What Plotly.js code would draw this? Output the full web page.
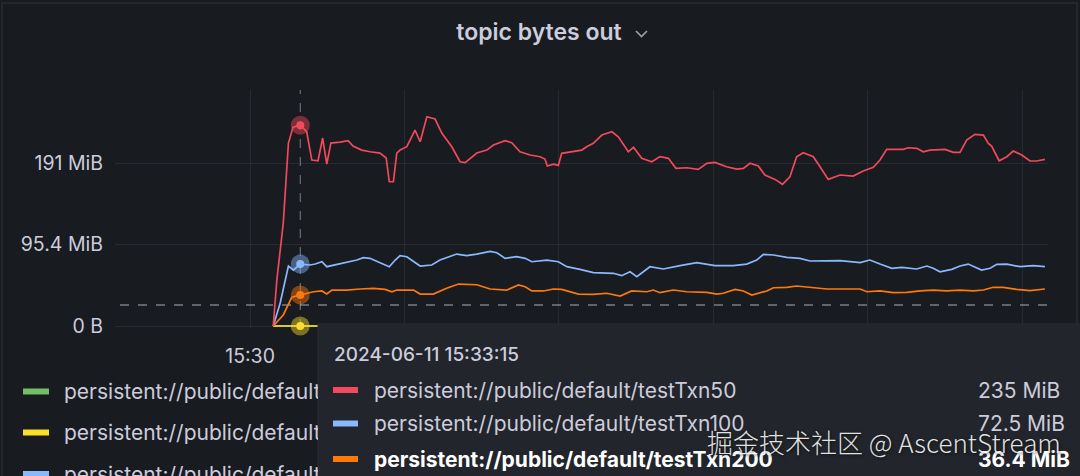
<!DOCTYPE html>
<html>
<head>
<meta charset="utf-8">
<script src="https://cdn.plot.ly/plotly-3.0.1.min.js"></script>
<style>
html,body{margin:0;padding:0;background:#181b1f;}
#chart{width:1080px;height:476px;}
</style>
</head>
<body>
<div id="chart"></div>
<script>
// ---------------- DATA ----------------
const day = '2024-06-11 ';
const seriesNames = [
  'persistent://public/default/testTxn10',
  'persistent://public/default/testTxn20',
  'persistent://public/default/testTxn100',
  'persistent://public/default/testTxn200',
  'persistent://public/default/testTxn50'
];
const seriesColors = ['#73BF69', '#FADE2A', '#8AB8FF', '#FF780A', '#F2495C'];

// green + yellow series (flat at zero)
const greenTimes = ['15:31:30', '16:21:29'];
const greenValues = [0, 0];
const yellowTimes = ['15:31:30', '16:21:29'];
const yellowValues = [0, 0];

// testTxn50 (MiB)
const redTimes = ['15:31:30','15:31:44','15:32:09','15:32:29','15:32:47','15:33:15','15:33:40','15:34:00','15:34:24','15:34:42',
'15:34:58','15:35:14','15:35:50','15:36:21','15:36:40','15:37:14','15:37:46','15:38:25','15:38:49','15:39:01',
'15:39:17','15:39:30','15:39:43','15:40:09','15:40:41','15:41:01','15:41:27','15:41:59','15:42:25','15:43:04',
'15:43:36','15:43:56','15:44:41','15:45:20','15:45:46','15:46:31','15:46:57','15:47:29','15:48:08','15:48:47',
'15:49:06','15:49:15','15:49:39','15:49:58','15:50:11','15:50:56','15:51:29','15:51:48','15:52:14','15:52:47',
'15:53:26','15:53:51','15:54:30','15:54:50','15:55:22','15:56:01','15:56:33','15:57:06','15:57:35','15:58:17',
'15:59:02','15:59:35','16:00:07','16:00:52','16:01:31','16:01:57','16:02:23','16:02:55','16:03:21','16:04:00',
'16:04:29','16:04:58','16:05:24','16:05:50','16:06:29','16:06:55','16:07:27','16:08:13','16:09:04','16:09:43',
'16:10:22','16:10:48','16:11:14','16:12:19','16:12:38','16:13:11','16:13:36','16:14:02','16:15:01','16:15:33',
'16:15:59','16:16:25','16:16:57','16:17:30','16:17:49','16:18:02','16:18:31','16:19:01','16:19:26','16:19:59',
'16:20:31','16:20:57','16:21:29'];
const redValues = [0,53.8,120.5,214.1,232.8,235,227.3,194.2,193.4,220,
189.5,214.1,215.3,216.8,210.6,205.9,203.9,202.4,196.6,168.8,
168.8,202.4,205.9,209.8,229.3,215.6,244.9,242.2,225.8,209.8,
192.2,191.1,202.4,205.9,211.8,216.8,214.5,203.9,200.1,198.1,
195.4,187.2,189.5,188,202.1,203.9,205.9,209.8,213.8,223.5,
227.3,221.5,203.9,209.1,196.2,192.2,198.3,196.2,184.5,185.2,
183.3,190.4,191.5,186.4,183.7,184.5,190.4,187.2,176.7,171.6,
165.8,174.7,198.1,202.8,198.1,186.4,171.6,176.7,175.5,181.4,
185.7,194.2,206.7,206.7,208.6,207.9,203.9,205.9,206.7,203.2,
203.2,217.6,224.3,223.5,213.8,210.6,193.4,198.1,204.8,200.1,
193.1,193.1,195];

// testTxn100 (MiB)
const blueTimes = ['15:31:30','15:31:57','15:32:29','15:32:48','15:33:15','15:33:53','15:34:13','15:34:39','15:34:58','15:35:50',
'15:36:55','15:37:20','15:37:46','15:38:25','15:39:01','15:39:24','15:39:43','15:40:09','15:41:01','15:41:46',
'15:42:18','15:43:23','15:44:02','15:44:41','15:45:33','15:45:59','15:46:31','15:47:16','15:47:49','15:48:15',
'15:49:13','15:49:58','15:50:31','15:51:22','15:52:14','15:53:32','15:54:04','15:54:37','15:55:03','15:55:54',
'15:56:46','15:57:51','15:58:56','16:00:07','16:01:18','16:02:10','16:02:49','16:03:15','16:03:54','16:04:46',
'16:05:37','16:06:16','16:07:21','16:08:13','16:09:31','16:10:09','16:10:48','16:11:34','16:12:13','16:13:11',
'16:13:50','16:14:15','16:14:41','16:15:27','16:15:59','16:16:31','16:17:23','16:17:56','16:18:22','16:19:01',
'16:19:52','16:20:44','16:21:29'];
const blueValues = [0,26.9,70.2,65.5,72.5,71.4,72.5,75.2,69.4,72.5,
77.2,79.9,79.2,74.1,69.4,77.2,82.3,81.1,70.2,71.4,
77.2,84.2,82.3,84.2,87.4,85.8,79.2,81.1,79.2,75.2,
77.2,75.2,69.4,66.3,62.4,61.7,58.9,63.5,57.7,69.4,
66.7,70.6,74.1,70.6,70.6,72.5,77.2,83.9,83.1,80.4,
79.2,76.1,76.1,76.4,74.1,77.2,72.5,67.5,68.7,66.7,
70.2,67.5,63.5,66.3,70.2,72.5,65.5,67.5,72.2,72.5,
69.4,70.6,69.4];

// testTxn200 (MiB)
const orangeTimes = ['15:31:30','15:32:09','15:32:42','15:33:15','15:34:06','15:34:39','15:34:58','15:35:18','15:36:16','15:37:08',
'15:37:59','15:38:45','15:39:11','15:39:30','15:40:35','15:41:01','15:41:52','15:42:44','15:43:30','15:44:41',
'15:45:33','15:46:38','15:47:23','15:47:49','15:48:15','15:49:00','15:49:39','15:50:11','15:51:16','15:52:14',
'15:53:06','15:53:58','15:54:43','15:55:42','15:56:07','15:56:33','15:57:25','15:58:17','15:59:35','16:00:14',
'16:00:39','16:01:25','16:01:57','16:02:30','16:03:28','16:03:54','16:04:46','16:05:24','16:06:29','16:07:21',
'16:08:26','16:09:31','16:09:57','16:10:48','16:11:40','16:12:32','16:13:24','16:14:15','16:15:07','16:15:59',
'16:16:51','16:17:30','16:18:08','16:18:47','16:19:39','16:20:31','16:21:29'];
const orangeValues = [0,12.9,33.6,36.4,40.1,41,37.4,42.1,42.1,43.3,
44.1,42.9,40.1,42.1,42.1,37.4,37.4,44.1,49.1,48.3,
43.3,42.1,48,46,41,41,43.3,42.9,37.4,37.1,
38.3,35.1,41,40.1,42.1,39,42.1,40.1,39.4,37.4,
38.3,42.9,41,36.3,41,44.8,45.3,46.8,45.3,43.3,
43.3,43.3,40.1,41,39,39.4,41,42.1,41,42.1,
41,42.1,45.3,45.3,42.9,41.3,43.3];

// axis ticks (y: bytes 0, 1e8, 2e8 expressed in MiB)
const yTickVals = [0, 95.367, 190.735];
const yTickText = ['0 B', '95.4 MiB', '191 MiB'];
// x: only 15:30 is visible; the rest sit under the tooltip
const xTickVals = ['15:30:00', '15:40:00', '15:50:00', '16:00:00', '16:10:00', '16:20:00'];
const xTickText = ['15:30', '', '', '', '', ''];

// hover / tooltip content
const hoverTime = '15:33:15';
const hoverLabel = '2024-06-11 15:33:15';
const tooltipNames = ['persistent://public/default/testTxn50', 'persistent://public/default/testTxn100', 'persistent://public/default/testTxn200'];
const tooltipValues = ['235 MiB', '72.5 MiB', '36.4 MiB'];
const tooltipColors = ['#F2495C', '#8AB8FF', '#FF780A'];
const crosshairValue = 24.6;

// ---------------- LAYOUT HELPERS ----------------
const W = 1080, H = 476;
const M = {l: 115, r: 32, t: 90, b: 148};
const PW = W - M.l - M.r, PH = H - M.t - M.b;
const px = x => (x - M.l) / PW;
const py = y => (H - M.b - y) / PH;
const full = arr => arr.map(t => day + t);

const font = 'Inter, "Noto Sans", sans-serif';
const txt = '#ccccdc';

const series = [
  {t: greenTimes, v: greenValues, c: seriesColors[0], n: seriesNames[0]},
  {t: yellowTimes, v: yellowValues, c: seriesColors[1], n: seriesNames[1]},
  {t: blueTimes, v: blueValues, c: seriesColors[2], n: seriesNames[2]},
  {t: orangeTimes, v: orangeValues, c: seriesColors[3], n: seriesNames[3]},
  {t: redTimes, v: redValues, c: seriesColors[4], n: seriesNames[4]}
];

const traces = series.map(s => ({
  type: 'scatter', mode: 'lines', x: full(s.t), y: s.v, name: s.n,
  line: {color: s.c, width: 1.7}, hoverinfo: 'skip', showlegend: false
}));

// hover markers taken from series at hover time
const hx = [], hy = [], hc = [];
[series[4], series[2], series[3], series[1]].forEach(s => {
  const i = s.t.indexOf(hoverTime);
  hx.push(day + hoverTime);
  hy.push(i >= 0 ? s.v[i] : 0);
  hc.push(s.c);
});
traces.push({type: 'scatter', mode: 'markers', x: hx, y: hy, cliponaxis: false,
  marker: {size: 19, color: hc, opacity: 0.45}, hoverinfo: 'skip', showlegend: false});
traces.push({type: 'scatter', mode: 'markers', x: hx, y: hy, cliponaxis: false,
  marker: {size: 8, color: hc}, hoverinfo: 'skip', showlegend: false});

const shapes = [
  // crosshair
  {type: 'line', xref: 'x', yref: 'paper', x0: day + hoverTime, x1: day + hoverTime, y0: 0, y1: 1,
   line: {color: 'rgba(204,204,220,0.55)', width: 1, dash: 'dash'}, layer: 'below'},
  {type: 'line', xref: 'paper', yref: 'y', x0: px(120), x1: 1, y0: crosshairValue, y1: crosshairValue,
   line: {color: 'rgba(204,204,220,0.55)', width: 1.3, dash: 'dash'}, layer: 'below'},
  // panel border
  {type: 'rect', xref: 'paper', yref: 'paper', x0: px(2), x1: px(1077), y0: py(490), y1: py(3),
   line: {color: 'rgba(204,204,220,0.10)', width: 1.5}, layer: 'below'},
  // title chevron
  {type: 'path', xref: 'paper', yref: 'paper',
   path: `M ${px(636)},${py(31)} L ${px(641.5)},${py(36.5)} L ${px(647)},${py(31)}`,
   line: {color: '#9fa1a8', width: 1.6}, layer: 'above'},
  // tooltip box
  {type: 'rect', xref: 'paper', yref: 'paper', x0: px(318), x1: px(1085), y0: py(480), y1: py(324),
   fillcolor: '#22252b', line: {color: '#2a2d33', width: 1}, layer: 'above'}
];

// legend swatches (bottom-left)
const legendRows = [391.5, 432.5, 474];
[0, 1, 2].forEach((k, r) => {
  shapes.push({type: 'rect', xref: 'paper', yref: 'paper', x0: px(23), x1: px(49),
    y0: py(legendRows[r] + 3), y1: py(legendRows[r] - 3), fillcolor: seriesColors[k],
    line: {width: 0}, layer: 'above'});
});
// tooltip swatches
const tipRows = [390, 423.5, 459];
tooltipColors.forEach((c, r) => {
  shapes.push({type: 'rect', xref: 'paper', yref: 'paper', x0: px(333), x1: px(358),
    y0: py(tipRows[r] + 3), y1: py(tipRows[r] - 3), fillcolor: c, line: {width: 0}, layer: 'above'});
});

const annotations = [];
[0, 1, 2].forEach((k, r) => {
  annotations.push({xref: 'paper', yref: 'paper', x: px(63), y: py(legendRows[r]),
    xanchor: 'left', yanchor: 'middle', showarrow: false, text: seriesNames[k],
    width: 254, align: 'left', borderpad: 0,
    font: {family: font, size: 21, color: txt}});
});
annotations.push({xref: 'paper', yref: 'paper', x: px(332), y: py(354), xanchor: 'left', yanchor: 'middle',
  showarrow: false, text: hoverLabel, font: {family: font, size: 19, color: txt, weight: 500}});
tooltipNames.forEach((n, r) => {
  const bold = r === 2;
  annotations.push({xref: 'paper', yref: 'paper', x: px(372), y: py(tipRows[r]), xanchor: 'left', yanchor: 'middle',
    showarrow: false, text: n, font: {family: font, size: 21, color: bold ? '#ffffff' : txt, weight: bold ? 700 : 400}});
  annotations.push({xref: 'paper', yref: 'paper', x: px(976), y: py(tipRows[r]), xanchor: 'left', yanchor: 'middle',
    showarrow: false, text: tooltipValues[r], font: {family: font, size: 21, color: bold ? '#ffffff' : txt, weight: bold ? 700 : 400}});
});
// watermark
annotations.push({xref: 'paper', yref: 'paper', x: px(884), y: py(441), xanchor: 'center', yanchor: 'middle',
  showarrow: false, text: '掘金技术社区 @ AscentStream',
  font: {family: '"Noto Sans CJK SC", "Noto Sans", sans-serif', size: 26, color: 'rgba(255,255,255,0.88)',
         weight: 300, shadow: '1px 1px 3px rgba(0,0,0,0.7)'}});

const layout = {
  width: W, height: H,
  margin: M,
  paper_bgcolor: '#181b1f', plot_bgcolor: '#181b1f',
  showlegend: false,
  title: {text: 'topic bytes out', x: (539 / W), xref: 'container', xanchor: 'center',
          y: 1 - 32 / H, yref: 'container', yanchor: 'middle',
          font: {family: font, size: 23, color: txt, weight: 600}},
  xaxis: {type: 'date', range: [day + '15:21:15', day + '16:21:41'],
          tickmode: 'array', tickvals: full(xTickVals), ticktext: xTickText,
          showgrid: true, gridcolor: 'rgba(204,204,220,0.09)', gridwidth: 1,
          zeroline: false, showline: false, ticks: '', ticklabelstandoff: 14,
          tickfont: {family: font, size: 19.5, color: txt}},
  yaxis: {range: [-2.34, 276.2], tickmode: 'array', tickvals: yTickVals, ticktext: yTickText,
          showgrid: true, gridcolor: 'rgba(204,204,220,0.09)', gridwidth: 1,
          zeroline: false, showline: false, ticks: '', ticklabelstandoff: 11,
          tickfont: {family: font, size: 19.5, color: txt}},
  shapes: shapes,
  annotations: annotations
};

Plotly.newPlot('chart', traces, layout, {displayModeBar: false, staticPlot: true});
</script>
</body>
</html>
